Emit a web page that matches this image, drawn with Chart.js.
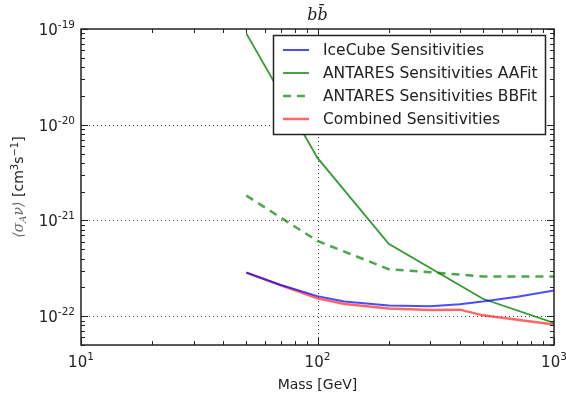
<!DOCTYPE html>
<html>
<head>
<meta charset="utf-8">
<script src="https://cdn.jsdelivr.net/npm/chart.js@4/dist/chart.umd.min.js"></script>
<style>
  html, body { margin: 0; padding: 0; background: #fff; }
  #wrap { width: 566px; height: 394px; }
</style>
</head>
<body>
<div id="wrap"><canvas id="chart" width="566" height="394"></canvas></div>
<script>
// values
const iceMass = [50, 70, 100, 130, 200, 300, 400, 500, 700, 1000]
const iceVals = [2.85e-22, 2.12e-22, 1.62e-22, 1.42e-22, 1.29e-22, 1.27e-22, 1.33e-22, 1.42e-22, 1.6e-22, 1.85e-22]
const aaMass = [50, 100, 200, 500, 1000]
const aaVals = [9.0e-20, 4.5e-21, 5.7e-22, 1.52e-22, 8.5e-23]
const bbMass = [50, 100, 200, 300, 500, 1000]
const bbVals = [1.82e-21, 6.1e-22, 3.1e-22, 2.88e-22, 2.6e-22, 2.6e-22]
const combMass = [50, 70, 100, 130, 200, 300, 400, 500, 1000]
const combVals = [2.85e-22, 2.1e-22, 1.54e-22, 1.34e-22, 1.2e-22, 1.16e-22, 1.17e-22, 1.02e-22, 8.2e-23]

const xMajor = [10, 100, 1000]
const xMajorLabels = ['1', '2', '3']
const yMajor = [1e-22, 1e-21, 1e-20, 1e-19]
const yMajorLabels = ['-22', '-21', '-20', '-19']

const labels = ['IceCube Sensitivities', 'ANTARES Sensitivities AAFit', 'ANTARES Sensitivities BBFit', 'Combined Sensitivities']

function pts(xs, ys) {
  return xs.map((x, i) => ({ x: x, y: ys[i] }))
}

const FONT = '"DejaVu Sans", sans-serif'

const decor = {
  id: 'decor',
  beforeDatasetsDraw(chart) {
    const ctx = chart.ctx
    const a = chart.chartArea
    const xs = chart.scales.x, ys = chart.scales.y
    ctx.save()
    ctx.strokeStyle = '#444'
    ctx.lineWidth = 1
    ctx.setLineDash([1, 3])
    xMajor.forEach(v => {
      const px = Math.round(xs.getPixelForValue(v)) + 0.5
      if (px <= a.left + 1 || px >= a.right - 1) return
      ctx.beginPath(); ctx.moveTo(px, a.top); ctx.lineTo(px, a.bottom); ctx.stroke()
    })
    yMajor.forEach(v => {
      const py = Math.round(ys.getPixelForValue(v)) + 0.5
      if (py <= a.top + 1 || py >= a.bottom - 1) return
      ctx.beginPath(); ctx.moveTo(a.left, py); ctx.lineTo(a.right, py); ctx.stroke()
    })
    ctx.restore()
  },
  afterDraw(chart) {
    const ctx = chart.ctx
    const a = chart.chartArea
    const xs = chart.scales.x, ys = chart.scales.y
    ctx.save()

    // ticks, inside, on all four sides
    ctx.strokeStyle = '#222'
    ctx.lineWidth = 1
    ctx.beginPath()
    for (let d = 1; d <= 3; d++) {
      for (let m = 1; m <= 9; m++) {
        const v = m * Math.pow(10, d)
        if (v < 10 || v > 1000) continue
        const px = Math.round(xs.getPixelForValue(v)) + 0.5
        const len = m === 1 ? 7 : 4
        ctx.moveTo(px, a.bottom); ctx.lineTo(px, a.bottom - len)
        ctx.moveTo(px, a.top); ctx.lineTo(px, a.top + len)
      }
    }
    for (let d = -23; d <= -19; d++) {
      for (let m = 1; m <= 9; m++) {
        const v = m * Math.pow(10, d)
        if (v < 5e-23 * 0.999 || v > 1e-19 * 1.001) continue
        const py = Math.round(ys.getPixelForValue(v)) + 0.5
        const len = m === 1 ? 7 : 4
        ctx.moveTo(a.left, py); ctx.lineTo(a.left + len, py)
        ctx.moveTo(a.right, py); ctx.lineTo(a.right - len, py)
      }
    }
    ctx.stroke()

    // frame
    ctx.lineWidth = 1.5
    ctx.strokeStyle = '#222'
    ctx.strokeRect(a.left, a.top, a.right - a.left, a.bottom - a.top)

    // tick labels
    ctx.fillStyle = '#222'
    ctx.textBaseline = 'alphabetic'
    xMajor.forEach((v, i) => {
      const px = xs.getPixelForValue(v)
      ctx.font = '15px ' + FONT
      const w1 = ctx.measureText('10').width
      ctx.font = '10.5px ' + FONT
      const w2 = ctx.measureText(xMajorLabels[i]).width
      const x0 = px - (w1 + w2) / 2
      ctx.font = '15px ' + FONT
      ctx.textAlign = 'left'
      ctx.fillText('10', x0, 367)
      ctx.font = '10.5px ' + FONT
      ctx.fillText(xMajorLabels[i], x0 + w1, 360)
    })
    yMajor.forEach((v, i) => {
      const py = ys.getPixelForValue(v)
      ctx.font = '10.5px ' + FONT
      const w2 = ctx.measureText(yMajorLabels[i]).width
      ctx.textAlign = 'left'
      const right = 75
      ctx.fillText(yMajorLabels[i], right - w2, py - 1)
      ctx.font = '15px ' + FONT
      const w1 = ctx.measureText('10').width
      ctx.fillText('10', right - w2 - w1, py + 6)
    })

    // axis label x
    ctx.font = '14px ' + FONT
    ctx.textAlign = 'center'
    ctx.fillText('Mass [GeV]', (a.left + a.right) / 2, 389)

    // axis label y (rotated)
    ctx.save()
    ctx.translate(23, (a.top + a.bottom) / 2)
    ctx.rotate(-Math.PI / 2)
    ctx.textAlign = 'left'
    const parts = [
      { t: '\u27E8\u03C3', f: 'italic 14px "DejaVu Serif", serif', c: '#666', dy: 0 },
      { t: 'A', f: 'italic 10px "DejaVu Serif", serif', c: '#666', dy: 3 },
      { t: '\u03BD\u27E9', f: 'italic 14px "DejaVu Serif", serif', c: '#666', dy: 0 },
      { t: ' [cm', f: '14px ' + FONT, c: '#222', dy: 0 },
      { t: '3', f: '10px ' + FONT, c: '#222', dy: -5 },
      { t: 's', f: '14px ' + FONT, c: '#222', dy: 0 },
      { t: '\u22121', f: '10px ' + FONT, c: '#222', dy: -5 },
      { t: ']', f: '14px ' + FONT, c: '#222', dy: 0 }
    ]
    let total = 0
    parts.forEach(p => { ctx.font = p.f; p.w = ctx.measureText(p.t).width; total += p.w })
    let cx = -total / 2
    parts.forEach(p => {
      ctx.font = p.f; ctx.fillStyle = p.c
      ctx.fillText(p.t, cx, p.dy)
      cx += p.w
    })
    ctx.restore()

    // title
    ctx.fillStyle = '#222'
    ctx.font = 'italic 16px "DejaVu Serif", serif'
    ctx.textAlign = 'center'
    ctx.fillText('b b\u0304'.replace(' ', ''), (a.left + a.right) / 2, 20)

    // legend
    const lx = 273.5, ly = 35.5, lw = 272, lh = 99
    ctx.fillStyle = '#fff'
    ctx.fillRect(lx, ly, lw, lh)
    ctx.lineWidth = 1.5
    ctx.strokeStyle = '#222'
    ctx.strokeRect(lx, ly, lw, lh)
    ctx.font = '15.5px ' + FONT
    ctx.textAlign = 'left'
    ctx.textBaseline = 'middle'
    chart.data.datasets.forEach((ds, i) => {
      const y = 50 + i * 23
      ctx.strokeStyle = ds.borderColor
      ctx.lineWidth = ds.borderWidth
      ctx.setLineDash(ds.borderDash || [])
      ctx.beginPath(); ctx.moveTo(283, y); ctx.lineTo(309, y); ctx.stroke()
      ctx.setLineDash([])
      ctx.fillStyle = '#222'
      ctx.fillText(ds.label, 323, y + 1)
    })
    ctx.restore()
  }
}

new Chart(document.getElementById('chart').getContext('2d'), {
  type: 'scatter',
  data: {
    datasets: [
      { label: labels[0], data: pts(iceMass, iceVals), borderColor: 'rgba(0,0,255,0.7)', borderWidth: 2 },
      { label: labels[1], data: pts(aaMass, aaVals), borderColor: 'rgba(0,128,0,0.8)', borderWidth: 1.8 },
      { label: labels[2], data: pts(bbMass, bbVals), borderColor: 'rgba(0,128,0,0.7)', borderWidth: 2.5, borderDash: [8, 6] },
      { label: labels[3], data: pts(combMass, combVals), borderColor: 'rgba(255,0,0,0.6)', borderWidth: 2.5 }
    ].map(d => Object.assign(d, { showLine: true, pointRadius: 0, tension: 0, fill: false }))
  },
  options: {
    responsive: false,
    animation: false,
    layout: { padding: { left: 81, right: 12, top: 29, bottom: 49 } },
    plugins: { legend: { display: false }, tooltip: { enabled: false } },
    scales: {
      x: { type: 'logarithmic', min: 10, max: 1000, display: false },
      y: { type: 'logarithmic', min: 5e-23, max: 1e-19, display: false }
    }
  },
  plugins: [decor]
})
</script>
</body>
</html>
